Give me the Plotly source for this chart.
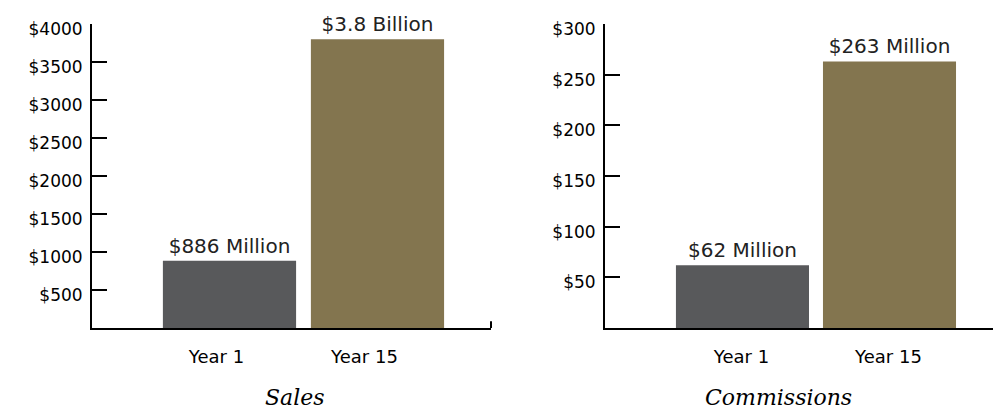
import plotly.graph_objects as go

categories = ["Year 1", "Year 15"]
sales_values = [886, 3800]
sales_labels = ["$886 Million", "$3.8 Billion"]
comm_values = [62, 263]
comm_labels = ["$62 Million", "$263 Million"]
sales_ticks = [500, 1000, 1500, 2000, 2500, 3000, 3500, 4000]
comm_ticks = [50, 100, 150, 200, 250, 300]
bar_colors = ["#58595b", "#83754f"]

W, H = 993, 409
fig = go.Figure()

xpos = list(range(len(categories)))

fig.add_trace(go.Bar(x=xpos, y=sales_values, text=sales_labels, textposition="outside",
                     marker=dict(color=bar_colors, line=dict(width=0)), width=0.9,
                     cliponaxis=False, xaxis="x", yaxis="y", hoverinfo="skip",
                     textfont=dict(family="DejaVu Sans", size=20, color="#222222")))
fig.add_trace(go.Bar(x=xpos, y=comm_values, text=comm_labels, textposition="outside",
                     marker=dict(color=bar_colors, line=dict(width=0)), width=0.905,
                     cliponaxis=False, xaxis="x2", yaxis="y2", hoverinfo="skip",
                     textfont=dict(family="DejaVu Sans", size=20, color="#222222")))

ydom = [1 - 328 / H, 1 - 24 / H]

def yaxis_cfg(ticks, rng, anchor):
    return dict(domain=ydom, range=rng, anchor=anchor, tickmode="array", tickvals=ticks,
                ticktext=[f"${t}" for t in ticks], ticks="inside", ticklen=15,
                tickwidth=2, tickcolor="black", showline=True, linecolor="black",
                linewidth=2, showgrid=False, zeroline=False, automargin=False,
                tickfont=dict(family="DejaVu Sans", size=17, color="black"),
                ticklabelshift=5, ticklabelstandoff=4)

def xaxis_cfg(dom, rng, shift, anchor):
    return dict(domain=dom, range=rng, anchor=anchor, tickmode="array", tickvals=xpos,
                ticktext=categories, ticks="", showline=True, linecolor="black",
                linewidth=2, showgrid=False, zeroline=False, automargin=False,
                tickfont=dict(family="DejaVu Sans", size=18, color="black"),
                ticklabelstandoff=11, ticklabelshift=shift)

fig.update_layout(
    width=W, height=H, margin=dict(l=0, r=0, t=0, b=0, pad=0),
    paper_bgcolor="white", plot_bgcolor="white", showlegend=False,
    xaxis=xaxis_cfg([92 / W, 491 / W], [-0.929, 1.767], -13, "y"),
    yaxis=yaxis_cfg(sales_ticks, [0, 4000], "x"),
    xaxis2=xaxis_cfg([605 / W, 1.0], [-0.935, 1.704], -1, "y2"),
    yaxis2=yaxis_cfg(comm_ticks, [0, 300], "x2"),
    shapes=[dict(type="line", xref="x domain", yref="y domain", x0=1, x1=1,
                 y0=0, y1=0.022, line=dict(color="black", width=2))],
    annotations=[
        dict(text="<i>Sales</i>", xref="paper", yref="paper", x=295 / W, y=1 - 397 / H,
             showarrow=False, xanchor="center", yanchor="middle",
             font=dict(family="DejaVu Serif", size=22, color="black")),
        dict(text="<i>Commissions</i>", xref="paper", yref="paper", x=778 / W, y=1 - 397 / H,
             showarrow=False, xanchor="center", yanchor="middle",
             font=dict(family="DejaVu Serif", size=22, color="black")),
    ],
)

fig.write_html("out.html", config={"displayModeBar": False},
               post_script="document.body.style.margin='0';document.body.style.overflow='hidden';")
